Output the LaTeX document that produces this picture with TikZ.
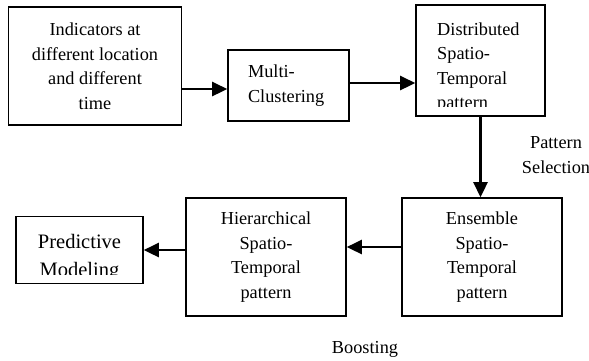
\documentclass[tikz,border=0pt]{standalone}
\usepackage{fontspec}
\setmainfont{Liberation Serif}
\usetikzlibrary{arrows.meta}

\tikzset{
	bloco/.style={draw, line width=1.6pt, inner sep=0pt, font=\fontsize{18.3}{24.5}\selectfont},
	texto/.style={inner sep=0pt, font=\fontsize{18.3}{24.5}\selectfont},
	seta/.style={-{Triangle[length=15pt,width=14pt]}, line width=2.6pt}
}

\begin{document}
\begin{tikzpicture}[x=1pt,y=-1pt]
	\useasboundingbox (0,0) rectangle (589,360);
	
	% Linha de cima
	\node[bloco, minimum width=173, minimum height=118, align=center] (ind) at (95,66) {Indicators at\\different location\\and different\\time};
	\node[bloco, minimum width=121, minimum height=71, text width=81, inner xsep=20pt, align=left] (mclu) at (288.5,85.5) {Multi-\\Clustering};
	\node[bloco, minimum width=129, minimum height=111] (dist) at (480.5,60.5) {};
	\begin{scope}
		\clip (dist.north west) rectangle ([yshift=10pt]dist.south east);
		\node[texto, anchor=west, align=left] (distT) at (437,67.5) {Distributed\\Spatio-\\Temporal\\pattern};
	\end{scope}
	
	% Linha de baixo
	\node[bloco, minimum width=160, minimum height=118, align=center] (ens) at (482,257) {Ensemble\\Spatio-\\Temporal\\pattern};
	\node[bloco, minimum width=160, minimum height=118, align=center] (hier) at (266,257) {Hierarchical\\Spatio-\\Temporal\\pattern};
	\node[bloco, minimum width=127, minimum height=67] (pred) at (79.5,250) {};
	\begin{scope}
		\clip (pred.north west) rectangle ([yshift=10pt]pred.south east);
		\node[texto, align=center, font=\fontsize{20.5}{27.5}\selectfont] (predT) at (79.5,257.5) {Predictive\\Modeling};
	\end{scope}
	
	% Setas
	\draw[seta] ([yshift=-3.5pt]mclu.west -| ind.east) -- ([yshift=-3.5pt]mclu.west);
	\draw[seta] ([yshift=2.5pt]mclu.east) -- ([yshift=2.5pt]mclu.east -| dist.west);
	\draw[seta] (dist.south) -- (dist.south |- ens.north);
	\draw[seta] ([yshift=10pt]ens.west) -- ([yshift=10pt]ens.west -| hier.east);
	\draw[seta] (hier.west |- pred.east) -- (pred.east);
	
	% Rótulos
	\node[texto, align=center] (sel) at (556,155) {Pattern\\Selection};
	\node[texto] (boost) at (365,349) {Boosting};
\end{tikzpicture}
\end{document}
